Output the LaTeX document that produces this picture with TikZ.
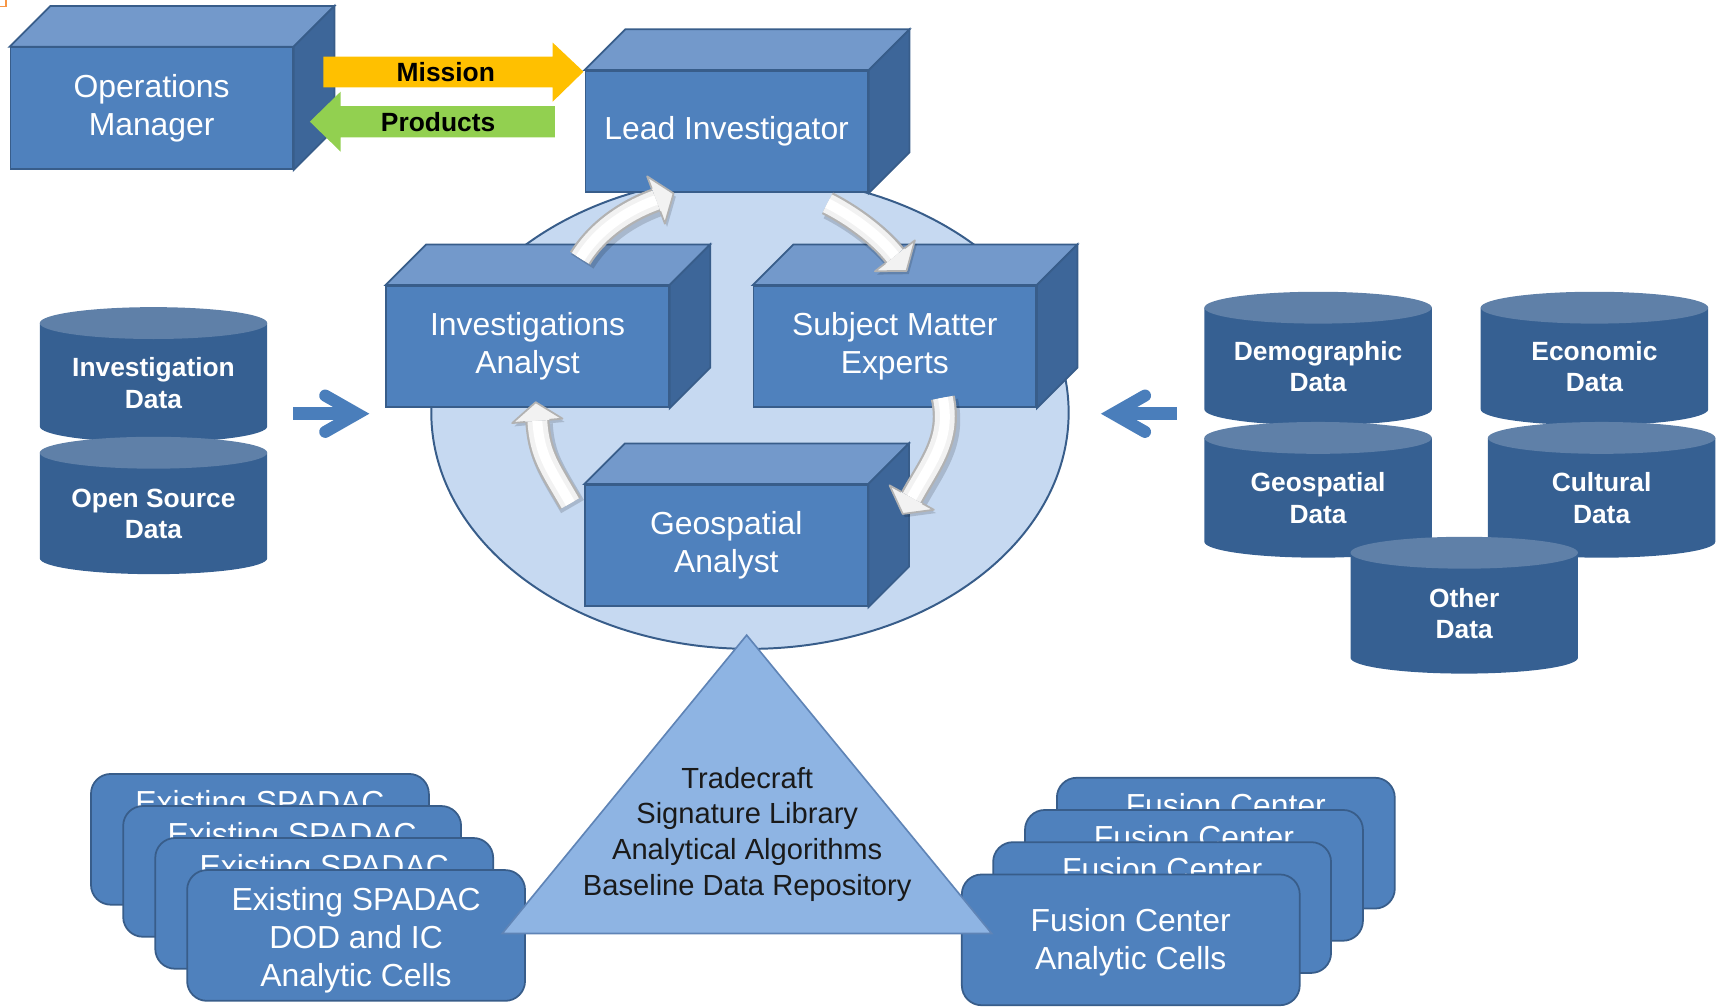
\documentclass[tikz,border=0pt]{standalone}
\usepackage{fontspec}
\setmainfont{Liberation Sans}
\usetikzlibrary{calc,shapes.geometric}

\definecolor{boxfront}{HTML}{4F81BD}
\definecolor{boxtop}{HTML}{7399CB}
\definecolor{boxside}{HTML}{3D6699}
\definecolor{boxline}{HTML}{385D8A}
\definecolor{teamfill}{HTML}{C6D9F1}
\definecolor{cylbody}{HTML}{366092}
\definecolor{cyltop}{HTML}{5F80A8}
\definecolor{chevron}{HTML}{4A7EBB}
\definecolor{missionfill}{HTML}{FFC000}
\definecolor{productsfill}{HTML}{92D050}
\definecolor{basefill}{HTML}{8EB4E3}
\definecolor{trianglerim}{HTML}{5F84B6}
\definecolor{basetextcolor}{HTML}{1A1A1A}
\definecolor{orangemark}{HTML}{F79646}

\tikzset{
  cubefront/.style={draw=boxline, line width=1.6pt, fill=boxfront,
    minimum width=257pt, minimum height=110.5pt, inner sep=0pt,
    text=white, align=center, font=\fontsize{29}{34.5}\selectfont},
  cubetop/.style={draw=boxline, line width=1.6pt, fill=boxtop},
  cubeside/.style={draw=boxline, line width=1.6pt, fill=boxside},
  teamzone/.style={ellipse, draw=boxline, line width=1.8pt, fill=teamfill,
    minimum width=580pt, minimum height=430pt, inner sep=0pt},
  flowtext/.style={font=\bfseries\fontsize{24}{28}\selectfont, text=black, inner sep=0pt},
  drumbody/.style={fill=cylbody},
  drumcap/.style={fill=cyltop},
  drumtext/.style={font=\bfseries\fontsize{24}{28.7}\selectfont, text=white,
    align=center, inner sep=0pt},
  chevronline/.style={draw=chevron, line width=11pt, line cap=round, line join=miter},
  chevronbar/.style={fill=chevron},
  cellcard/.style={draw=boxline, line width=1.6pt, fill=boxfront, rounded corners=18pt,
    minimum width=307.5pt, minimum height=119pt, inner sep=0pt, anchor=north west},
  cardtext/.style={text=white, align=center, inner sep=0pt,
    font=\fontsize{29}{34.5}\selectfont},
  cardlabel/.style={text=white, inner sep=0pt, anchor=base,
    font=\fontsize{29}{34.5}\selectfont},
  basetri/.style={fill=basefill, draw=trianglerim, line width=1.5pt},
  basetext/.style={text=basetextcolor, align=center, inner sep=0pt,
    font=\fontsize{26.5}{32.5}\selectfont},
  bendshadow/.style={draw=black, opacity=0.15, line width=24pt},
  bendrim/.style={draw=gray!60, line width=22pt},
  bendbody/.style={draw=gray!10, line width=18pt},
  bendgloss/.style={draw=white, line width=9pt},
  bendedge/.style={draw=gray!60, line width=1.6pt, line join=round},
}

% 3-D block: name, left x, top y of the front face, label
\newcommand{\cubebox}[4]{%
  \node[cubefront, anchor=north west] (#1) at (#2,#3) {#4};
  \filldraw[cubetop] (#1.north west) -- ++(37,-37) -- ($(#1.north east)+(37,-37)$)
    -- (#1.north east) -- cycle;
  \filldraw[cubeside] (#1.north east) -- ++(37,-37) -- ($(#1.south east)+(37,-37)$)
    -- (#1.south east) -- cycle;
}

% data drum: name, centre x, top y, bottom y, label
\newcommand{\drum}[5]{%
  \fill[drumbody] ({#2-103.5},#3) -- ({#2-103.5},#4)
    arc[start angle=180, end angle=360, x radius=103.5pt, y radius=14.5pt]
    -- ({#2+103.5},#3) -- cycle;
  \fill[drumcap] (#2,#3) ellipse [x radius=103.5pt, y radius=14.5pt];
  \node[drumtext] (#1) at (#2,{(#3+#4)/2+7.5}) {#5};
}

% curved white arrow along the coordinates <p>t, <p>c, <p>d, <p>b, <p>h
\newcommand{\bendarrow}[1]{%
  \path ($(#1b)!23pt!90:(#1h)$) coordinate (#1l)
        ($(#1b)!23pt!-90:(#1h)$) coordinate (#1r)
        ($(#1b)!11pt!90:(#1h)$) coordinate (#1li)
        ($(#1b)!11pt!-90:(#1h)$) coordinate (#1ri);
  \begin{scope}[transform canvas={xshift=2pt,yshift=-3pt}]
    \draw[bendshadow] (#1t) .. controls (#1c) and (#1d) .. (#1b);
    \fill[black, opacity=0.15] (#1h) -- (#1l) -- (#1r) -- cycle;
  \end{scope}
  \fill[gray!10] (#1h) -- (#1l) -- (#1r) -- cycle;
  \draw[bendrim] (#1t) .. controls (#1c) and (#1d) .. (#1b);
  \draw[bendbody] (#1t) .. controls (#1c) and (#1d) .. (#1b);
  \draw[bendgloss] (#1t) .. controls (#1c) and (#1d) .. (#1b);
  \draw[bendedge] (#1li) -- (#1l) -- (#1h) -- (#1r) -- (#1ri);
}

\begin{document}
\begin{tikzpicture}[x=1pt, y=-1pt]
\useasboundingbox (0,0) rectangle (1568,916);

% corner mark
\draw[orangemark, line width=1.6pt] (0,5.9) -- (5.2,5.9) -- (5.2,0);

% team zone
\node[teamzone] (team) at (682.5,375.5) {};

% management level
\cubebox{opsmgr}{8.7}{42.5}{Operations\\Manager}

\fill[missionfill] (294.3,51.6) -- (503,51.6) -- (503,38.8) -- (531,65.2)
  -- (503,92.5) -- (503,79.5) -- (294.3,79.5) -- cycle;
\node[flowtext] (mission) at (405.7,66) {Mission};
\fill[productsfill] (505,96.5) -- (310,96.5) -- (310,83.4) -- (282,110.7)
  -- (310,138) -- (310,125) -- (505,125) -- cycle;
\node[flowtext] (products) at (398.7,111) {Products};

% analysis team
\cubebox{lead}{532}{63.7}{Lead Investigator}
\cubebox{invan}{350.8}{259.4}{Investigations\\Analyst}
\cubebox{sme}{685}{259.4}{Subject Matter\\Experts}
\cubebox{geoan}{531.7}{440.5}{Geospatial\\Analyst}

% workflow cycle
\coordinate (lkAt) at (528,235);   \coordinate (lkAc) at (544,209);
\coordinate (lkAd) at (570.7,191.5); \coordinate (lkAb) at (597,182);
\coordinate (lkAh) at (613,176);
\coordinate (lkBt) at (753,185);   \coordinate (lkBc) at (773,195);
\coordinate (lkBd) at (798.9,213); \coordinate (lkBb) at (814.4,232.8);
\coordinate (lkBh) at (825,246.5);
\coordinate (lkCt) at (858,362);   \coordinate (lkCc) at (866,400);
\coordinate (lkCd) at (846.5,422); \coordinate (lkCb) at (829.7,452.8);
\coordinate (lkCh) at (821.5,467.7);
\coordinate (lkDt) at (519,458);   \coordinate (lkDc) at (500,425);
\coordinate (lkDd) at (491,414);   \coordinate (lkDb) at (489,383);
\coordinate (lkDh) at (487.5,366);
\bendarrow{lkA}
\bendarrow{lkB}
\bendarrow{lkC}
\bendarrow{lkD}

% data sources
\drum{invdata}{139.7}{294}{388}{Investigation\\Data}
\drum{osdata}{139.7}{412}{508}{Open Source\\Data}
\drum{demodata}{1199.5}{280}{372.5}{Demographic\\Data}
\drum{econdata}{1451}{280}{372.5}{Economic\\Data}
\drum{geodata}{1199.5}{398.5}{493}{Geospatial\\Data}
\drum{cultdata}{1457.5}{398.5}{493}{Cultural\\Data}
\drum{otherdata}{1332.5}{503}{598.5}{Other\\Data}

% inflow arrows
\fill[chevronbar] (267,370.8) rectangle (325,382.2);
\draw[chevronline] (296,360) -- (325,376.5) -- (296,393);
\fill[chevronbar] (1071,370.8) rectangle (1013,382.2);
\draw[chevronline] (1042,360) -- (1013,376.5) -- (1042,393);

% existing cells
\node[cellcard] (spadacA) at (82,703.5) {};
\node[cardlabel] (spadacAtxt) at ($(spadacA.north)+(0,36.5)$) {Existing SPADAC};
\node[cellcard] (spadacB) at (111.3,732.7) {};
\node[cardlabel] (spadacBtxt) at ($(spadacB.north)+(0,36.5)$) {Existing SPADAC};
\node[cellcard] (spadacC) at (140.5,761.8) {};
\node[cardlabel] (spadacCtxt) at ($(spadacC.north)+(0,36.5)$) {Existing SPADAC};
\node[cellcard] (spadacD) at (169.5,791) {};
\node[cardtext] (spadacDtxt) at ($(spadacD.center)+(0,4)$)
  {Existing SPADAC\\DOD and IC\\Analytic Cells};

\node[cellcard] (fusionA) at (961,707) {};
\node[cardlabel] (fusionAtxt) at ($(fusionA.north)+(0,35.8)$) {Fusion Center};
\node[cellcard] (fusionB) at (932,736.3) {};
\node[cardlabel] (fusionBtxt) at ($(fusionB.north)+(0,35.8)$) {Fusion Center};
\node[cellcard] (fusionC) at (903,765.6) {};
\node[cardlabel] (fusionCtxt) at ($(fusionC.north)+(0,35.8)$) {Fusion Center};
\node[cellcard] (fusionD) at (874.5,795) {};
\node[cardtext] (fusionDtxt) at ($(fusionD.center)+(0,2.5)$)
  {Fusion Center\\Analytic Cells};

% foundation
\coordinate (triTop) at (679.5,578);
\coordinate (triL) at (457,849.5);
\coordinate (triR) at (902.5,849.5);
\filldraw[basetri] (triTop) -- (triL) -- (triR) -- cycle;
\node[basetext] (craft) at (680,759)
  {Tradecraft\\Signature Library\\Analytical Algorithms\\Baseline Data Repository};

\end{tikzpicture}
\end{document}
